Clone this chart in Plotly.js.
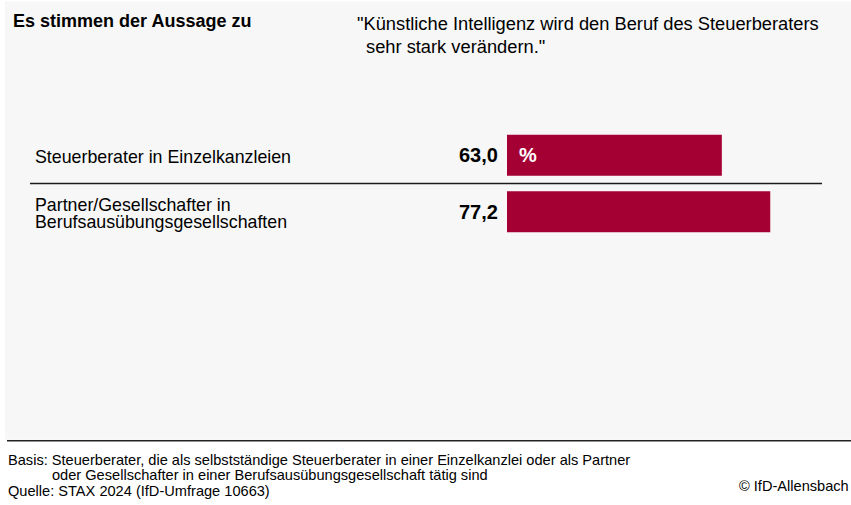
<!DOCTYPE html>
<html><head><meta charset="utf-8">
<script src="https://cdn.plot.ly/plotly-3.0.1.min.js"></script>
<style>html,body{margin:0;padding:0;background:#fff}</style>
</head><body>
<div id="chart" style="width:851px;height:505px"></div>
<script>
const categories = ["Steuerberater in Einzelkanzleien", "Partner/Gesellschafter in<br>Berufsausübungsgesellschaften"];
const values = [63.0, 77.2];
const valueLabels = ["63,0", "77,2"];
const unitLabel = "%";
const titleLeft = "Es stimmen der Aussage zu";
const quoteLine1 = "\"Künstliche Intelligenz wird den Beruf des Steuerberaters";
const quoteLine2 = "sehr stark verändern.\"";
const footBasis1 = "Basis: Steuerberater, die als selbstständige Steuerberater in einer Einzelkanzlei oder als Partner";
const footBasis2 = "oder Gesellschafter in einer Berufsausübungsgesellschaft tätig sind";
const footSource = "Quelle: STAX 2024 (IfD-Umfrage 10663)";
const footCopy = "© IfD-Allensbach";

const W = 851, H = 505;
const L = 507, R = 848, T = 126.5, B = 240.5;
const px = p => (p - L) / (R - L);
const py = p => (B - p) / (B - T);
const RED = "#a50034";
const FONT = "Liberation Sans, Arial, sans-serif";
const FOOT = 14.6;

const trace = {
  type: "bar", orientation: "h",
  y: categories, x: values,
  marker: {color: RED},
  hoverinfo: "skip"
};

const ann = [];
function txt(text, x, y, size, opts) {
  ann.push(Object.assign({
    text: text, xref: "paper", yref: "paper", x: px(x), y: py(y),
    xanchor: "left", yanchor: "middle", showarrow: false, align: "left",
    font: {family: FONT, size: size, color: "#000"}
  }, opts || {}));
}
txt("<b>" + titleLeft + "</b>", 11, 20, 18);
txt(quoteLine1, 355, 22, 18.3);
txt(quoteLine2, 364, 45, 18.3);
categories.forEach((c, i) => {
  const lines = c.split("<br>");
  const step = 16.5;
  lines.forEach((ln, k) => {
    ann.push({text: ln, xref: "paper", yref: "y", x: px(33), y: c, xanchor: "left", yanchor: "middle",
      yshift: -((k - (lines.length - 1) / 2) * step) - 1.5, showarrow: false, align: "left",
      font: {family: FONT, size: 17.8, color: "#000"}});
  });
  ann.push({text: "<b>" + valueLabels[i] + "</b>", xref: "x", yref: "y", x: 0, y: c, xanchor: "right", yanchor: "middle",
    xshift: -7, showarrow: false, font: {family: FONT, size: 20, color: "#000"}});
});
ann.push({text: "<b>" + unitLabel + "</b>", xref: "x", yref: "y", x: 0, y: categories[0], xanchor: "left", yanchor: "middle",
  xshift: 10, showarrow: false, font: {family: FONT, size: 20, color: "#fff"}});
txt(footBasis1, 6, 462, FOOT);
txt(footBasis2, 50, 478, FOOT);
txt(footSource, 6, 494, FOOT);
txt(footCopy, 851, 489, FOOT, {xanchor: "right"});

const layout = {
  width: W, height: H, autosize: false,
  margin: {l: L, r: W - R, t: T, b: H - B, pad: 0},
  paper_bgcolor: "#fff", plot_bgcolor: "rgba(0,0,0,0)",
  showlegend: false, bargap: 0.27,
  xaxis: {range: [0, 100], visible: false, fixedrange: true},
  yaxis: {type: "category", autorange: "reversed", visible: false, fixedrange: true},
  shapes: [
    {type: "rect", xref: "paper", yref: "paper", x0: px(5), x1: px(851), y0: py(442), y1: py(0),
      fillcolor: "#f7f7f7", line: {width: 0}, layer: "below"},
    {type: "line", xref: "paper", yref: "y", x0: px(30), x1: px(822), y0: 0.5, y1: 0.5,
      line: {color: "#1a1a1a", width: 1.6}},
    {type: "line", xref: "paper", yref: "paper", x0: px(7), x1: px(851), y0: py(443), y1: py(443),
      line: {color: "#222", width: 1.6}}
  ],
  annotations: ann
};
Plotly.newPlot("chart", [trace], layout, {displayModeBar: false, staticPlot: true});
</script>
</body></html>
